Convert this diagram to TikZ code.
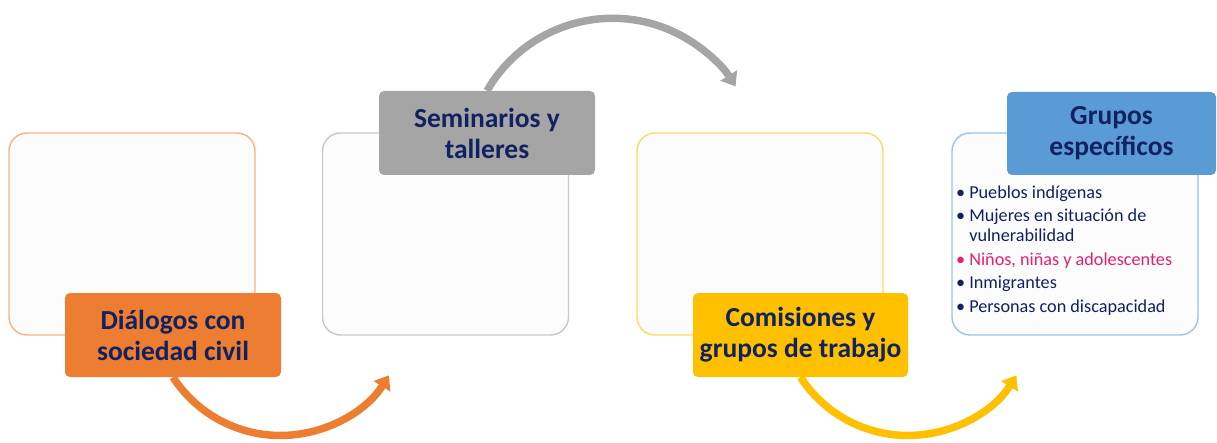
\documentclass[tikz,border=0pt]{standalone}
\usepackage{fontspec}
\setmainfont{Carlito}
\usepackage{tikz}
\usetikzlibrary{arrows.meta}
\usetikzlibrary{backgrounds}

\definecolor{navy}{RGB}{16,34,96}
\definecolor{pinktxt}{RGB}{228,32,112}
\definecolor{boxfill}{RGB}{252,252,252}
\definecolor{orangeA}{RGB}{237,125,49}
\definecolor{orangeB}{RGB}{246,178,130}
\definecolor{grayA}{RGB}{165,165,165}
\definecolor{grayB}{RGB}{200,200,200}
\definecolor{yellowA}{RGB}{255,192,0}
\definecolor{yellowB}{RGB}{255,217,102}
\definecolor{blueA}{RGB}{91,155,213}
\definecolor{blueB}{RGB}{157,195,230}

\begin{document}
\begin{tikzpicture}[x=1pt,y=1pt,>=Stealth,
    back/.style={
        draw=#1, line width=1.4pt, fill=boxfill,
        rounded corners=18pt, inner sep=0pt,
        minimum width=246pt, minimum height=202pt
    },
    head/.style={
        fill=#1, rounded corners=5pt, inner sep=0pt,
        minimum width=216pt, minimum height=84pt,
        align=center, text=navy,
        font=\bfseries\fontsize{27.5}{31}\selectfont
    },
    loop/.style={
        draw=#1, line width=7.5pt,
        -{Triangle[width=19pt,length=13pt]}
    }
]

%%%

    \useasboundingbox (0,0) rectangle (1217,442);

    % background boxes
    \node[back=orangeB] (bx1) at (132,208) {};
    \node[back=grayB]   (bx2) at (445.5,208) {};
    \node[back=yellowB] (bx3) at (760,208) {};
    \node[back=blueB]   (bx4) at (1075,208) {};

    % list in the last box
    \node[anchor=north west, inner sep=0pt, text=navy,
          font=\fontsize{18.2}{20}\selectfont] (lst) at (956,258) {%
        \begin{tabular}{@{}l@{\hspace{4pt}}l@{}}
            \textbullet & Pueblos indígenas\\[3.5pt]
            \textbullet & Mujeres en situación de\\
                        & vulnerabilidad\\[3.5pt]
            \color{pinktxt}\textbullet & \color{pinktxt}Niños, niñas y adolescentes\\[3.5pt]
            \textbullet & Inmigrantes\\[3.5pt]
            \textbullet & Personas con discapacidad
        \end{tabular}};

    % titles
    \node[head=orangeA] (dlg) at (173,107) {Diálogos con\\sociedad civil};
    \node[head=grayA] (sem) at (487,309) {Seminarios y\\talleres};
    \node[head=yellowA, minimum width=215pt] (com) at (800.5,107) {Comisiones y\\grupos de trabajo};
    \node[head=blueA, minimum width=209pt, minimum height=83pt] (grp) at (1111.5,308.5) {Grupos\\específicos};

    % arrows between the steps, tails under the titles
    \begin{pgfonlayer}{background}
    \draw[loop=orangeA] (dlg.south) arc[start angle=213, end angle=328, radius=128] coordinate (tipA);
    \draw[loop=grayA] (sem.north) arc[start angle=150, end angle=32, radius=145] coordinate (tipB);
    \draw[loop=yellowA] (com.south) arc[start angle=213, end angle=328, radius=128] coordinate (tipC);
    \end{pgfonlayer}

\end{tikzpicture}
\end{document}
